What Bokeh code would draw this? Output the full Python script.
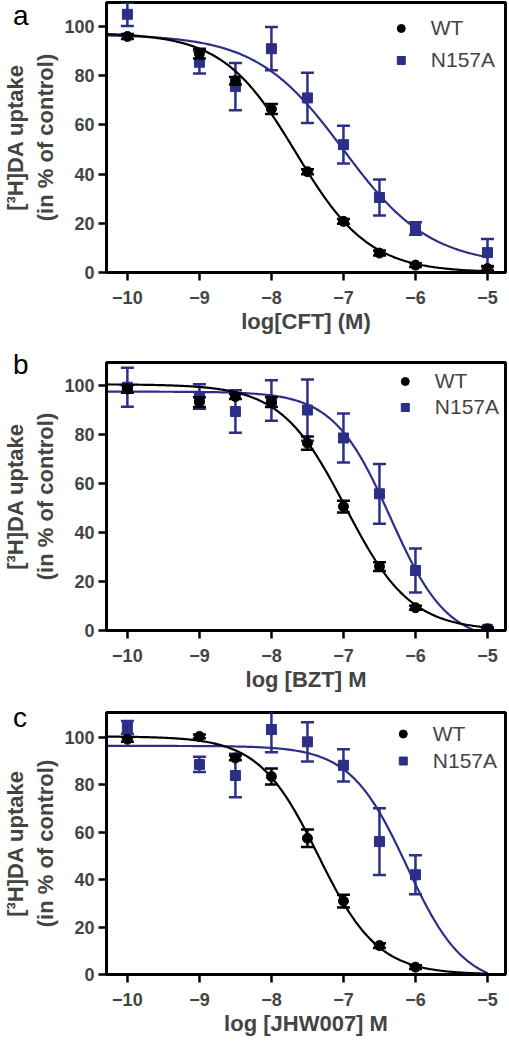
import numpy as np
from bokeh.plotting import figure
from bokeh.models import Range1d, FixedTicker, Legend, LegendItem, Div
from bokeh.layouts import column
from bokeh.embed import file_html
from bokeh.resources import INLINE

# ---------------- data ----------------
log_conc = [-10, -9, -8.5, -8, -7.5, -7, -6.5, -6, -5]
log_conc_c = [-10, -9, -8.5, -8, -7.5, -7, -6.5, -6]

# panel a : CFT
a_wt = [96, 89, 78, 66.5, 41, 20.8, 7.9, 3.0, 1.6]
a_wt_err = [1.0, 2.0, 1.5, 2.0, 1.0, 1.0, 1.0, 0.8, 0.8]
a_mut = [105, 85.5, 75.6, 91, 71, 52, 30.5, 17.9, 8.1]
a_mut_err = [4.8, 4.6, 9.6, 8.8, 10.2, 7.7, 7.3, 2.5, 5.5]

# panel b : BZT
b_wt = [98.6, 93.2, 95.5, 93.2, 76.5, 50.6, 26.1, 9.3, 0.7]
b_wt_err = [1.5, 2.0, 1.0, 2.0, 2.7, 2.4, 1.8, 0.8, 0.5]
b_mut = [99.3, 95.5, 89.4, 93.9, 90, 78.6, 55.8, 24.5, 0.5]
b_mut_err = [8.0, 5.0, 8.7, 8.3, 12.5, 10.0, 12.2, 9.0, 0.5]

# panel c : JHW007
c_wt = [99.3, 100.5, 91.4, 83.6, 57.5, 31, 12.2, 3.1]
c_wt_err = [1.0, 0.8, 1.0, 3.4, 3.7, 2.7, 1.0, 0.8]
c_mut = [104.3, 88.7, 84, 103.4, 98.2, 88.3, 56.1, 42.1]
c_mut_err = [2.7, 3.2, 9.2, 9.6, 8.3, 6.8, 14.1, 8.2]

# fitted curve parameters: (top, bottom, logIC50, hill)
a_wt_fit = (97.5, 0.0, -7.66, 0.856)
a_mut_fit = (96.8, 3.0, -7.0, 0.72)
b_wt_fit = (100.5, 0.0, -6.97, 0.965)
b_mut_fit = (97.5, -5.0, -6.35, 1.1)
c_wt_fit = (100.5, 0.0, -7.35, 1.05)
c_mut_fit = (96.5, -5.0, -6.12, 1.1)

x_ticks = [-10, -9, -8, -7, -6, -5]
y_ticks = [0, 20, 40, 60, 80, 100]
series_names = ["WT", "N157A"]
y_title = "[\u00b3H]DA uptake\n(in % of control)"

X_START, X_END = -10.29, -4.75
CURVE_END = -5.0

BLUE = "#2c2f86"
BLACK = "#000000"
FONT = "Liberation Sans"


def logistic(x, top, bottom, logic50, hill):
    return bottom + (top - bottom) / (1.0 + 10 ** ((x - logic50) * hill))


def letter_div(letter, pad_top):
    html = ('<div style="font-family: \'Liberation Sans\', Arial, sans-serif; '
            'font-size: 28px; line-height: 28px; color: #000; '
            'padding: %dpx 0 0 13px; margin: 0;">%s</div>' % (pad_top, letter))
    return Div(text=html, width=40, height=40, margin=(0, 0, -40, 0))


def make_panel(xlabel, xs, wt, wt_err, mut, mut_err, wt_fit, mut_fit,
               border_top, frame_h, border_bottom, y_end,
               leg_margin, leg_padding, leg_item_h):
    height = border_top + frame_h + border_bottom
    p = figure(width=509, height=height,
               x_range=Range1d(X_START, X_END), y_range=Range1d(0, y_end),
               output_backend="svg", toolbar_location=None,
               min_border_left=104, min_border_right=4,
               min_border_top=border_top, min_border_bottom=border_bottom)
    p.grid.visible = False
    p.outline_line_color = "black"
    p.outline_line_width = 3
    p.background_fill_color = "white"
    p.border_fill_alpha = 0

    for ax in (p.xaxis[0], p.yaxis[0]):
        ax.axis_line_width = 3
        ax.major_tick_line_width = 2.5
        ax.major_tick_out = 8
        ax.major_tick_in = 0
        ax.minor_tick_line_color = None
        ax.major_label_text_font = FONT
        ax.major_label_text_font_style = "bold"
        ax.major_label_text_font_size = "18px"
        ax.axis_label_text_font = FONT
        ax.axis_label_text_font_style = "bold"
        ax.axis_label_text_font_size = "22px"
    p.xaxis.ticker = FixedTicker(ticks=x_ticks)
    p.yaxis.ticker = FixedTicker(ticks=y_ticks)
    p.xaxis.major_label_standoff = 10
    p.xaxis.axis_label_standoff = 2
    p.yaxis.major_label_standoff = 4
    p.yaxis.axis_label_standoff = 3
    p.xaxis.axis_label = xlabel
    p.yaxis.axis_label = y_title

    xc = np.linspace(X_START, CURVE_END, 300)
    rend = {}
    for key, ys, es, fit, col, marker in (("mut", mut, mut_err, mut_fit, BLUE, "square"),
                                          ("wt", wt, wt_err, wt_fit, BLACK, "circle")):
        ys = np.array(ys, dtype=float)
        es = np.array(es, dtype=float)
        p.line(xc, logistic(xc, *fit), line_color=col, line_width=2.2)
        p.segment(xs, ys - es, xs, ys + es, line_color=col, line_width=2.5)
        p.scatter(xs, ys + es, marker="dash", size=13, line_color=col, line_width=2.5)
        p.scatter(xs, ys - es, marker="dash", size=13, line_color=col, line_width=2.5)
        rend[key] = p.scatter(xs, ys, marker=marker, size=10, fill_color=col, line_color=col)

    legend = Legend(items=[LegendItem(label=series_names[0], renderers=[rend["wt"]]),
                           LegendItem(label=series_names[1], renderers=[rend["mut"]])],
                    location="top_right", border_line_color=None,
                    background_fill_alpha=0,
                    label_text_font=FONT, label_text_font_size="21px",
                    glyph_width=20, glyph_height=leg_item_h, label_height=leg_item_h,
                    label_standoff=20, spacing=0,
                    margin=leg_margin, padding=leg_padding)
    p.add_layout(legend)
    return p


pa = make_panel("log[CFT] (M)", log_conc, a_wt, a_wt_err, a_mut, a_mut_err,
                a_wt_fit, a_mut_fit, border_top=2, frame_h=270, border_bottom=74,
                y_end=109.8, leg_margin=10, leg_padding=4, leg_item_h=32)
pb = make_panel("log [BZT] M", log_conc, b_wt, b_wt_err, b_mut, b_mut_err,
                b_wt_fit, b_mut_fit, border_top=16, frame_h=268, border_bottom=74,
                y_end=109.4, leg_margin=6, leg_padding=4, leg_item_h=26)
pc = make_panel("log [JHW007] M", log_conc_c, c_wt, c_wt_err, c_mut, c_mut_err,
                c_wt_fit, c_mut_fit, border_top=8, frame_h=262, border_bottom=74,
                y_end=110.6, leg_margin=8, leg_padding=4, leg_item_h=27)

layout = column(letter_div("a", 2), pa,
                letter_div("b", 5), pb,
                letter_div("c", 0), pc, spacing=0)
open("out.html", "w").write(file_html(layout, INLINE))
